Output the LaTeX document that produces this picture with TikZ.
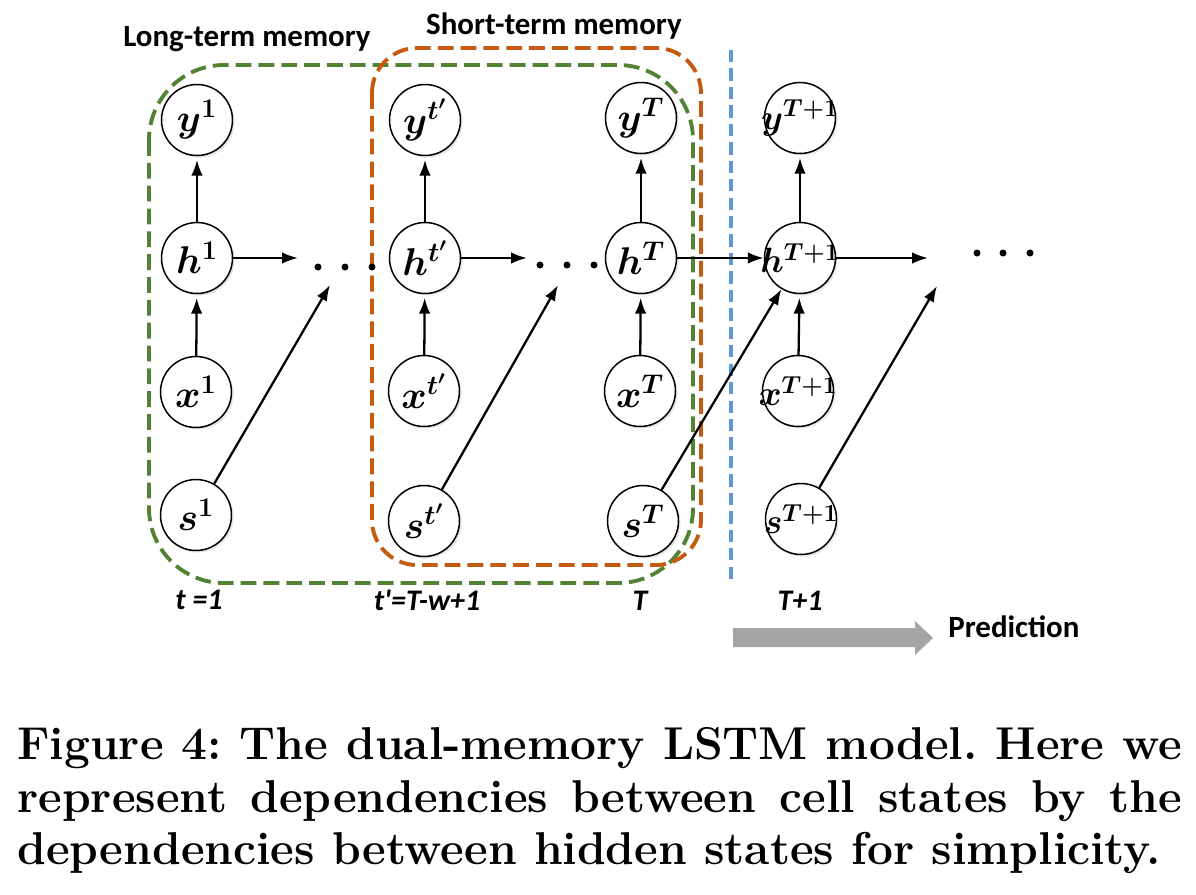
\RequirePackage{fix-cm}
\documentclass[tikz,border=0pt]{standalone}
\usepackage{fontspec}
\usepackage{bm}
\usetikzlibrary{arrows.meta,shadows}
\newfontfamily\carl{Carlito}
\definecolor{ltgreen}{HTML}{548235}
\definecolor{storange}{HTML}{C55A11}
\definecolor{predblue}{HTML}{5B9BD5}
\definecolor{predgray}{HTML}{A5A5A5}
\tikzset{
  circ/.style={circle, draw, line width=0.85pt, minimum size=1.42cm, inner sep=0pt, fill=white,
    drop shadow={opacity=0.18, shadow xshift=1.2pt, shadow yshift=-1.2pt},
    font=\fontsize{22}{26}\selectfont},
  arr/.style={-{Latex[length=9pt,width=6.5pt]}, line width=1.3pt},
  gbox/.style={draw=ltgreen, line width=2.2pt, dash pattern=on 9pt off 4pt, rounded corners=1.5cm},
  obox/.style={draw=storange, line width=2.2pt, dash pattern=on 9pt off 4pt, rounded corners=0.9cm},
  bline/.style={draw=predblue, line width=1.8pt, dash pattern=on 7pt off 3.5pt},
  headlbl/.style={font=\carl\bfseries\fontsize{17.6}{20}\selectfont, inner sep=0pt},
  timelbl/.style={font=\carl\bfseries\itshape\fontsize{17}{20}\selectfont, inner sep=0pt},
  caplbl/.style={font=\frenchspacing\bfseries\fontsize{26.2}{30}\selectfont, inner sep=0pt, anchor=base west},
  dotc/.style={fill=black, circle, inner sep=0pt, minimum size=0.14cm}
}
\newcommand{\lbl}[1]{\makebox[0pt]{$\bm{#1}$}}
\begin{document}
\begin{tikzpicture}[x=0.02cm,y=-0.02cm]
\useasboundingbox (0,0) rectangle (1196,894);

% nodes
\node[circ] (y1) at (197,120) {\lbl{y^{1}}};
\node[circ] (h1) at (197,258) {\lbl{h^{1}}};
\node[circ] (x1) at (196,392) {\lbl{x^{1}}};
\node[circ] (s1) at (196,515) {\lbl{s^{1}}};

\node[circ] (yt) at (425,120) {\lbl{y^{t'}}};
\node[circ] (ht) at (425,258) {\lbl{h^{t'}}};
\node[circ] (xt) at (424,391) {\lbl{x^{t'}}};
\node[circ] (st) at (424,521) {\lbl{s^{t'}}};

\node[circ] (yT) at (641,118) {\lbl{y^{T}}};
\node[circ] (hT) at (641,258) {\lbl{h^{T}}};
\node[circ] (xT) at (640,391) {\lbl{x^{T}}};
\node[circ] (sT) at (643,521) {\lbl{s^{T}}};

\node[circ, font=\fontsize{20}{24}\selectfont] (yN) at (800,118) {\lbl{y^{T+1}}};
\node[circ, font=\fontsize{20}{24}\selectfont] (hN) at (800,258) {\lbl{h^{T+1}}};
\node[circ, font=\fontsize{20}{24}\selectfont] (xN) at (798,391) {\lbl{x^{T+1}}};
\node[circ, font=\fontsize{20}{24}\selectfont] (sN) at (801,519) {\lbl{s^{T+1}}};

% memory boxes
\draw[gbox] (149,65) rectangle (693,583);
\draw[obox] (372,48) rectangle (701,565);
\coordinate (bl1) at (731,50);
\coordinate (bl2) at (731,582);
\draw[bline] (bl1) -- (bl2);

% dots
\node[dotc] (da1) at (318,267) {};
\node[dotc] (da2) at (345,267) {};
\node[dotc] (da3) at (372,267) {};
\node[dotc] (db1) at (540,265) {};
\node[dotc] (db2) at (567,265) {};
\node[dotc] (db3) at (594,265) {};
\node[dotc] (dc1) at (977,253) {};
\node[dotc] (dc2) at (1003,253) {};
\node[dotc] (dc3) at (1030,253) {};

% arrow end coordinates
\coordinate (e1) at (298,258);
\coordinate (e2) at (527,258);
\coordinate (e4) at (928,258);
\coordinate (g1) at (330,285);
\coordinate (g2) at (558,285);
\coordinate (g4) at (937,286);

% vertical arrows
\foreach \a/\b in {h1/y1,x1/h1,ht/yt,xt/ht,hT/yT,xT/hT,hN/yN,xN/hN}
  \draw[arr, shorten >=2pt] (\a) -- (\b);

% horizontal arrows
\draw[arr] (h1) -- (e1);
\draw[arr] (ht) -- (e2);
\draw[arr] (hT) -- (hN);
\draw[arr] (hN) -- (e4);

% diagonal arrows
\draw[arr] (s1) -- (g1);
\draw[arr] (st) -- (g2);
\draw[arr] (sT) -- (hN);
\draw[arr] (sN) -- (g4);

% heading labels
\node[headlbl] (lt) at (247,39) {Long-term memory};
\node[headlbl] (stm) at (554,26) {Short-term memory};

% time labels
\node[timelbl] (t1) at (199,600) {t =1};
\node[timelbl] (tt) at (427,600) {t\textquotesingle=T-w+1};
\node[timelbl] (tT) at (640,601) {T};
\node[timelbl] (tN) at (800,601) {T+1};

% prediction arrow
\fill[predgray] (733,628) -- (915,628) -- (915,621) -- (933,638) -- (915,655) -- (915,647) -- (733,647) -- cycle;
\node[headlbl, anchor=west] (pred) at (948,627) {Prediction};

% caption
\node[caplbl] (cap1) at (17,759) {\makebox[23.3cm][s]{Figure 4: The dual-memory LSTM model. Here we}};
\node[caplbl] (cap2) at (17,812) {\makebox[23.3cm][s]{represent dependencies between cell states by the}};
\node[caplbl] (cap3) at (17,864) {dependencies between hidden states for simplicity.};
\end{tikzpicture}
\end{document}
